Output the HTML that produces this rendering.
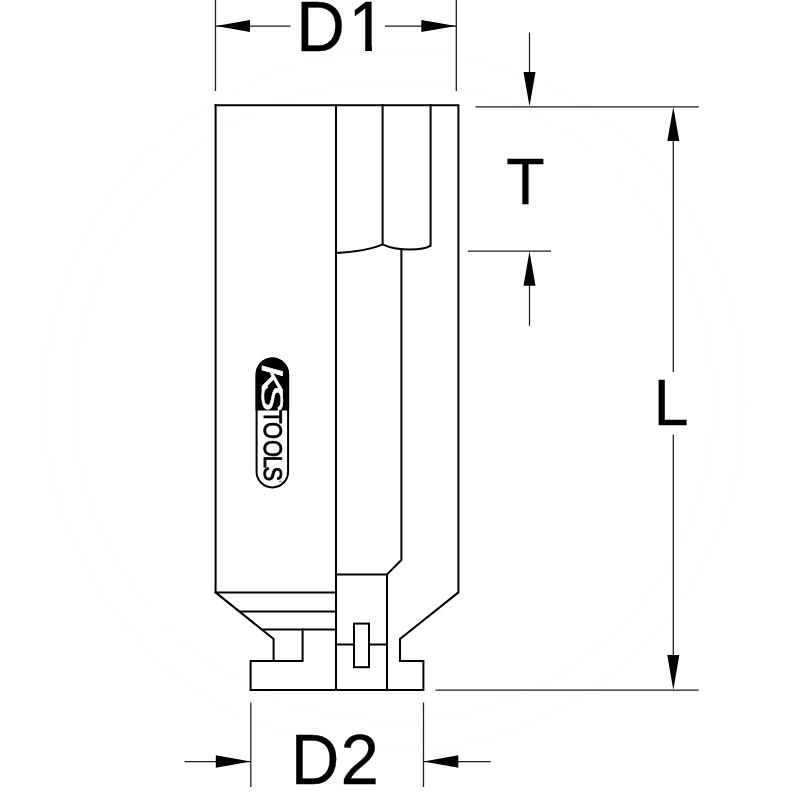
<!DOCTYPE html>
<html lang="en">
<head>
<meta charset="utf-8">
<title>KS Tools socket dimension drawing</title>
<style>
html,body{margin:0;padding:0;background:#fff;}
body{width:800px;height:800px;overflow:hidden;}
svg{display:block;}
.b{fill:none;stroke:#000;stroke-width:2;stroke-linecap:square;stroke-linejoin:miter;}
.t{fill:none;stroke:#1c1c1c;stroke-width:1.25;}
.a{fill:#000;stroke:none;}
.w{fill:none;stroke:#fcfcfc;stroke-width:1.2;}
.lbl text{stroke:#000;stroke-width:0.35;}
text{font-family:"Liberation Sans",sans-serif;fill:#000;}
</style>
</head>
<body>
<svg width="800" height="800" viewBox="0 0 800 800">
<rect width="800" height="800" fill="#fff"/>
<defs><filter id="nf" x="-0.1" y="-0.05" width="1.2" height="1.1" color-interpolation-filters="sRGB"><feColorMatrix type="saturate" values="0"/></filter><clipPath id="one"><rect x="0" y="-60" width="45" height="54"/><rect x="17.2" y="-6.5" width="6.9" height="6.9"/></clipPath></defs>
<!-- faint watermark ring -->
<circle class="w" cx="394" cy="401" r="350"/>
<circle class="w" cx="394" cy="401" r="320"/>

<!-- socket body -->
<g class="b">
<path d="M215.6,105.2 H458.4 V592.4 L400,639 V661 H423.4 V690 H250.6 V661 H302.6 V629.6"/>
<path d="M215.6,105.2 V592.4 L273.6,639 V661"/>
<path d="M215.6,592.4 H336"/>
<path d="M239.3,611.4 H336"/>
<path d="M261.9,629.6 H336"/>
<path d="M336,105 V690"/>
<path d="M382.6,105 V244.4"/>
<path d="M430.6,105 V245.6"/>
<path d="M336,253 Q366,251.5 382.6,244.4 C390,248 400,249.5 410,249.5 C420,249.5 427,248 430.6,245.6" stroke-linecap="butt" stroke-linejoin="round"/>
<path d="M401.4,249 V560 L387,574.4"/>
<path d="M336,574.4 H387 V690"/>
<path d="M336,644.6 H354 M369,644.6 H387"/>
<rect x="354" y="623.6" width="15" height="43.6"/>
</g>

<!-- dimension lines -->
<g class="t">
<path d="M215.5,0 V91 M456.3,0 V91"/>
<path d="M216,26 H290.5 M385,26 H456"/>
<path d="M475.5,106.8 H698.8"/>
<path d="M529.5,32.5 V100 M529.5,260 V325.8"/>
<path d="M468,251 H551"/>
<path d="M673.3,115 V372 M673.3,434.5 V682"/>
<path d="M435.5,690 H698.8"/>
<path d="M250.8,702.5 V787 M423.5,702.5 V787"/>
<path d="M184.5,761.5 H250 M424,761.5 H490.8"/>
</g>
<g class="a">
<path d="M216,26 L250,20 V32 Z"/>
<path d="M456,26 L421.3,20 V32 Z"/>
<path d="M529.5,106.5 L523.5,72 H535.5 Z"/>
<path d="M529.5,251.3 L523.5,285.8 H535.5 Z"/>
<path d="M673.3,107 L667.3,141 H679.3 Z"/>
<path d="M673.3,690 L667.3,655 H679.3 Z"/>
<path d="M250.8,761.5 L215.8,755.2 V767.8 Z"/>
<path d="M423.5,761.5 L458.3,755.2 V767.8 Z"/>
</g>

<!-- labels -->
<g class="lbl">
<text transform="translate(296.3,50.9) scale(0.965,1)" font-size="69.8">D</text>
<text transform="translate(348.6,50.9) scale(0.965,1)" font-size="69.8" clip-path="url(#one)">1</text>
<text transform="translate(506.2,204.4) scale(0.96,1)" font-size="65.4">T</text>
<text transform="translate(653.8,424.6) scale(0.964,1)" font-size="64.8">L</text>
<text transform="translate(290.7,784.4) scale(0.965,1)" font-size="69.8">D</text>
<text transform="translate(340.5,784.4) scale(0.99,1)" font-size="69.8">2</text>
</g>

<!-- KS TOOLS logo -->
<g style="text-rendering:geometricPrecision" filter="url(#nf)">
<rect x="256.6" y="358.5" width="31.5" height="128.9" rx="15.75" ry="15.75" fill="#fff" stroke="#000" stroke-width="2"/>
<path d="M255.6,410.5 V374.3 A16.75,16.75 0 0 1 289.1,374.3 V410.5 Z" fill="#000"/>
<text transform="translate(261.8,364.6) rotate(90) scale(1.45,1)" font-size="30" font-style="italic" x="0 12.6" style="fill:#fff;stroke:#fff;stroke-width:0.5">KS</text>
<text transform="translate(264,410.3) rotate(90) scale(0.85,1)" font-size="25.7" x="0 13.9 34.9 53.6 66" style="stroke:#000;stroke-width:0.9">TOOLS</text>
<text transform="translate(278.6,480) rotate(90)" font-size="4" style="fill:#666">®</text>
</g>
</svg>
</body>
</html>
